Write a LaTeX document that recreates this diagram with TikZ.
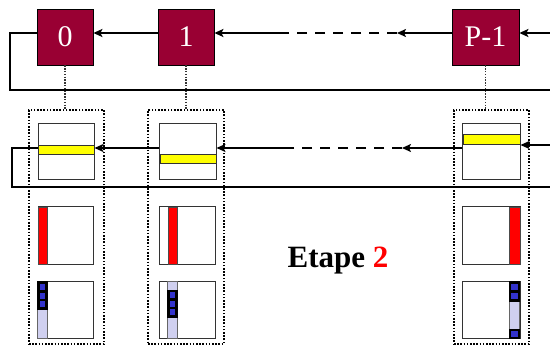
\documentclass[tikz,border=0pt]{standalone}
\usepackage{fontspec}
\setmainfont{Liberation Serif}
\usetikzlibrary{arrows.meta}
\definecolor{procred}{RGB}{153,0,51}
\definecolor{barred}{RGB}{255,0,0}
\definecolor{baryel}{RGB}{255,255,0}
\definecolor{lblue}{RGB}{208,208,240}
\definecolor{dblue}{RGB}{51,51,204}
\tikzset{
  proc/.style={draw=black, line width=0.8pt, fill=procred, text=white, minimum height=56pt, inner sep=0pt, font=\fontsize{30}{30}\selectfont},
  mem/.style={draw=black!80, line width=1pt, fill=white, minimum width=56pt, minimum height=56pt, inner sep=0pt},
  dotbox/.style={draw=black, line width=1.6pt, dash pattern=on 1.6pt off 1.6pt, minimum width=75pt, minimum height=234pt, inner sep=0pt},
  dotlink/.style={draw=black!80, line width=1.4pt, dash pattern=on 1.4pt off 1.4pt},
  bigline/.style={line width=2.6pt},
  midline/.style={line width=1.6pt},
  tip/.style={-{Stealth[length=9pt,width=8pt,inset=2pt]}},
  ybar/.style={fill=baryel, draw=black!80, line width=0.8pt},
  rbar/.style={fill=barred, draw=black!70, line width=0.6pt},
  lcol/.style={fill=lblue, draw=black!60, line width=0.8pt},
  blk/.style={fill=black},
  sq/.style={fill=dblue},
}
\begin{document}
\begin{tikzpicture}[x=1pt,y=-1pt]
\useasboundingbox (0,0) rectangle (550,345);
% processor boxes
\node[proc, minimum width=56pt] (p0) at (65,37) {0};
\node[proc, minimum width=56pt] (p1) at (186,37) {1};
\node[proc, minimum width=67pt] (pP) at (485.5,37) {P-1};
% dotted containers
\node[dotbox] (c0) at (66.5,227) {};
\node[dotbox, minimum width=76pt] (c1) at (186,227) {};
\node[dotbox] (cP) at (491.5,227) {};
\draw[dotlink] (p0.south) -- (p0.south |- c0.north);
\draw[dotlink] (p1.south) -- (p1.south |- c1.north);
\draw[dotlink] (pP.south) -- (pP.south |- cP.north);
% top ring
\coordinate (tin) at (550,33);
\coordinate (td1) at (397,33);
\coordinate (td2) at (280,33);
\coordinate (tl1) at (10,33);
\coordinate (tl2) at (10,90);
\coordinate (tl3) at (550,90);
\draw[bigline, tip] (tin) -- (pP.east |- tin);
\draw[bigline, tip] (pP.west |- tin) -- (td1);
\draw[bigline, dash pattern=on 10pt off 8pt] (td1) -- (td2);
\draw[bigline, tip] (td2) -- (p1.east |- tin);
\draw[bigline, tip] (p1.west |- tin) -- (p0.east |- tin);
\draw[bigline] (p0.west |- tin) -- (tl1) -- (tl2) -- (tl3);
% row 1 memory boxes
\node[mem] (a0) at (66,152) {};
\node[mem, minimum width=57pt] (a1) at (187.5,152) {};
\node[mem, minimum width=58pt] (aP) at (491,152) {};
\draw[ybar] (38,145) rectangle (94,154);
\draw[ybar] (160,154) rectangle (216,163);
\draw[ybar] (463,134) rectangle (520,144);
% row 1 ring
\coordinate (min) at (550,145);
\coordinate (md1) at (402,148);
\coordinate (md2) at (290,148);
\coordinate (ml1) at (12,148);
\coordinate (ml2) at (12,187);
\coordinate (ml3) at (550,187);
\draw[midline, tip] (min) -- (aP.east |- min);
\draw[midline, tip] (aP.west |- md1) -- (md1);
\draw[midline, dash pattern=on 10pt off 8pt] (md1) -- (md2);
\draw[midline, tip] (md2) -- (a1.east |- md2);
\draw[midline, tip] (a1.west |- md2) -- (a0.east |- md2);
\draw[midline] (a0.west |- md2) -- (ml1) -- (ml2) -- (ml3);
% row 2 boxes
\node[mem, minimum width=55pt, minimum height=57pt] (b0) at (65.5,235.5) {};
\node[mem, minimum width=56pt, minimum height=57pt] (b1) at (187,235.5) {};
\node[mem, minimum width=58pt, minimum height=57pt] (bP) at (491,235.5) {};
\draw[rbar] (38,207) rectangle (47,264);
\draw[rbar] (168,207) rectangle (177,264);
\draw[rbar] (509,207) rectangle (520,264);
% row 3 boxes
\node[mem, minimum width=56pt, minimum height=57pt] (e0) at (65,309.5) {};
\node[mem, minimum width=56pt, minimum height=57pt] (e1) at (187,309.5) {};
\node[mem, minimum width=58pt, minimum height=57pt] (eP) at (491,309.5) {};
% box 0 column
\draw[lcol] (37.5,281) rectangle (47,338);
\fill[blk] (37,281) rectangle (47.5,310);
\foreach \yy in {287,295.5,304} {\fill[sq] (39.5,\yy-3) rectangle (45,\yy+3);}
% box 1 column
\draw[lcol] (167.5,281) rectangle (177,338);
\fill[blk] (167,290) rectangle (177.5,318);
\foreach \yy in {295,303.5,312} {\fill[sq] (169.5,\yy-3) rectangle (175,\yy+3);}
% box P-1 column
\draw[lcol] (509,281) rectangle (519.5,338);
\fill[blk] (508.5,281) rectangle (520,302);
\fill[blk] (508.5,329) rectangle (520,338.5);
\foreach \yy in {287,296,333.5} {\fill[sq] (511,\yy-3) rectangle (517.5,\yy+3);}
% label
\node[font=\fontsize{31}{31}\selectfont\bfseries] (lab) at (338,261) {Etape \textcolor{barred}{2}};
\end{tikzpicture}
\end{document}
